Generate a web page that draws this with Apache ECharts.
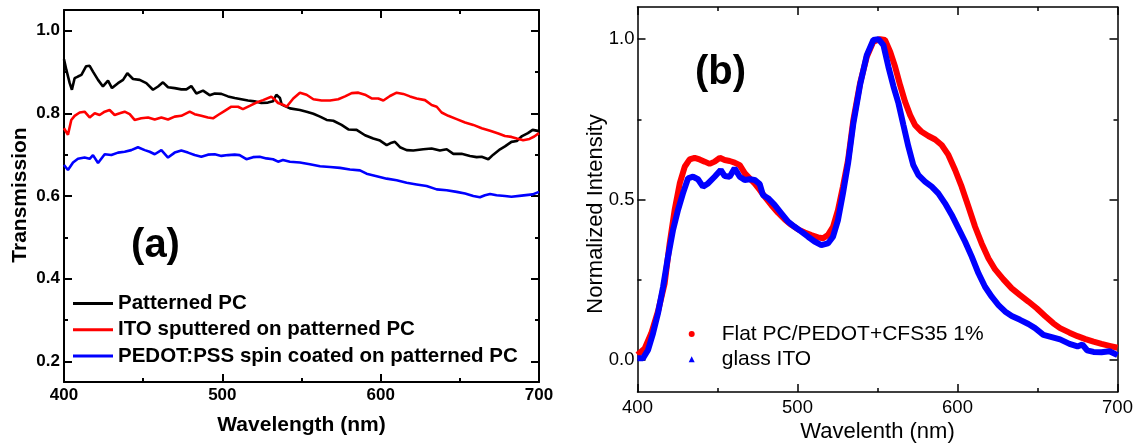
<!DOCTYPE html>
<html>
<head>
<meta charset="utf-8">
<script src="https://cdn.jsdelivr.net/npm/echarts@6/dist/echarts.min.js"></script>
<style>
  html, body { margin: 0; padding: 0; background: #fff; }
  #chart { width: 1143px; height: 444px; }
</style>
</head>
<body>
<div id="chart"></div>
<script>
// ---------- (a) transmission spectra ----------
const wlPatterned = [400,401.5,403.6,405,406.7,408.8,411,414,416.2,418.3,421.5,424.6,427.8,430.3,434.1,437.3,440,443.6,447.8,452,456.2,459.4,462.5,465.7,469.9,474.1,477.3,480.4,483.6,487.8,492,495.2,499.4,503.6,507.8,512,516.2,520.4,524.6,528.8,532,534.1,536.4,537.5,542.7,549,553.2,557.5,561.7,565.9,570.1,575.3,579.6,584.8,590.1,595.3,599.6,603.8,606.9,609,612.2,616.4,620.6,626.9,632.2,637.4,641.7,645.9,651.1,656.4,660.6,663.8,668,671.1,675.4,678.5,682.6,686,689.3,693,696,700];
const tPatterned = [0.931,0.905,0.873,0.857,0.885,0.889,0.893,0.914,0.915,0.901,0.881,0.865,0.879,0.861,0.873,0.881,0.897,0.883,0.881,0.873,0.857,0.865,0.875,0.863,0.861,0.858,0.858,0.866,0.848,0.855,0.844,0.848,0.847,0.841,0.837,0.834,0.831,0.829,0.825,0.826,0.829,0.845,0.837,0.821,0.812,0.808,0.804,0.799,0.792,0.784,0.782,0.772,0.761,0.760,0.747,0.739,0.734,0.723,0.729,0.731,0.718,0.711,0.710,0.713,0.715,0.710,0.713,0.702,0.702,0.697,0.694,0.695,0.689,0.700,0.713,0.720,0.731,0.733,0.745,0.752,0.760,0.757];

const wlITO = [400,402.5,404.6,406.7,409.9,413,416.2,419.4,422.5,425.7,428.8,432,435.2,438.3,441.5,444.6,448.8,453.1,457.3,461.5,465.7,469.9,474.1,479.4,482.5,486.7,490.9,494.1,497.3,501.5,505.7,509.9,513,517.3,521.5,525.7,530.9,533,535.2,538.3,540.6,544.8,549,553.2,557.5,562.7,568,573.2,577.5,581.7,585.9,590.1,594.3,598.5,601.7,605.9,610.1,614.3,618.5,622.7,628,632.2,635.4,638.5,642.7,648,653.3,658.5,663.8,669.1,674.3,678.5,682.6,686,690,694,697,700];
const tITO = [0.764,0.748,0.784,0.794,0.802,0.804,0.790,0.800,0.796,0.804,0.808,0.796,0.800,0.804,0.798,0.784,0.788,0.790,0.785,0.790,0.785,0.792,0.794,0.804,0.798,0.794,0.790,0.788,0.796,0.806,0.816,0.816,0.810,0.818,0.826,0.832,0.840,0.834,0.825,0.821,0.816,0.836,0.850,0.845,0.834,0.831,0.831,0.834,0.841,0.849,0.850,0.845,0.836,0.836,0.831,0.842,0.850,0.847,0.841,0.836,0.832,0.820,0.816,0.802,0.794,0.786,0.778,0.772,0.764,0.758,0.751,0.745,0.743,0.739,0.735,0.738,0.744,0.752];

const wlPEDOT = [400,402.5,405.7,408.8,413,416.2,418.3,421.5,425.7,429.9,434.1,438.3,442.5,446.7,451,454.1,457.3,461.5,465.7,469.9,474.1,478.3,482.5,486.7,490.9,495.2,499.4,503.6,507.8,510.9,515.2,519.4,523.6,527.8,532,535.2,538.3,542.7,549,555.3,561.7,568,574.3,580.6,586.9,591.1,597.5,603.8,610.1,616.4,622.7,629,635.4,641.7,648,653.3,658.5,662.7,665.9,669.1,673.2,678.5,682.6,689,696,700];
const tPEDOT = [0.675,0.663,0.681,0.690,0.693,0.690,0.699,0.680,0.701,0.699,0.705,0.707,0.711,0.718,0.711,0.707,0.701,0.711,0.693,0.705,0.710,0.705,0.699,0.695,0.700,0.701,0.697,0.699,0.700,0.699,0.689,0.694,0.695,0.691,0.689,0.683,0.687,0.683,0.681,0.677,0.672,0.670,0.668,0.664,0.662,0.654,0.648,0.642,0.638,0.632,0.628,0.624,0.616,0.614,0.610,0.606,0.600,0.597,0.602,0.605,0.602,0.600,0.598,0.601,0.604,0.610];

// ---------- (b) normalized emission ----------
const wlFlat = [400,404.5,408.6,412.8,417,420.1,423.2,426.4,429.5,432.6,435.7,438.8,442,445.1,448.2,451.4,454.5,457.6,460.7,463.9,467,470.1,473.2,476.4,479.5,483.6,487.8,492,496.1,500.3,504.5,508.6,512.8,516,519,522.2,525.3,528.4,531.6,534.9,539.1,543.3,547.4,551.6,554.7,557.9,561,564.1,567.2,570.4,573.5,577.6,581.8,586,590.1,594.3,598.5,602.6,606.8,611,615.1,619.3,623.5,628.7,633.9,639.1,644.3,649.5,654.7,659.9,664.1,670,675,680,685,690,695,700];
const iFlat = [0.016,0.036,0.083,0.151,0.239,0.363,0.467,0.550,0.602,0.625,0.630,0.625,0.618,0.611,0.618,0.630,0.623,0.620,0.615,0.607,0.582,0.566,0.550,0.530,0.509,0.483,0.459,0.438,0.421,0.407,0.397,0.389,0.382,0.379,0.389,0.415,0.467,0.540,0.623,0.748,0.862,0.945,0.992,1.000,0.997,0.961,0.914,0.857,0.805,0.763,0.732,0.711,0.698,0.687,0.670,0.639,0.592,0.540,0.478,0.415,0.363,0.317,0.282,0.251,0.223,0.202,0.182,0.161,0.137,0.114,0.099,0.085,0.074,0.065,0.057,0.050,0.044,0.038];

const wlGlass = [400,403.4,406.6,409.7,412.8,416,419.1,422.2,425.3,428.4,431.6,434.7,437.8,440.9,444.1,448.2,452,454.5,457.6,460.7,463.9,467,470.1,473.2,476.4,478.4,481.6,485.7,489.9,494.1,498.2,502.4,506.6,510.7,514.9,519,522.2,525.3,528.4,531.6,534.9,539.1,543.3,547.4,550.6,553.7,556.8,560,563.1,566.2,569.3,572.4,575.6,579.7,583.9,588,592.2,596.4,600.6,604.7,608.9,613.1,617.2,621.4,625.6,629.7,633.9,639.1,644.3,648.5,653.7,658.9,664.1,670,675,678,681,685,690,695,700];
const iGlass = [0.005,0.005,0.031,0.083,0.145,0.228,0.322,0.405,0.467,0.519,0.566,0.571,0.563,0.540,0.550,0.571,0.592,0.573,0.571,0.597,0.571,0.561,0.563,0.561,0.548,0.514,0.504,0.483,0.457,0.431,0.415,0.400,0.384,0.369,0.358,0.363,0.384,0.436,0.519,0.613,0.737,0.857,0.950,0.997,1.000,0.981,0.914,0.852,0.800,0.732,0.665,0.607,0.576,0.556,0.540,0.519,0.488,0.452,0.410,0.369,0.322,0.270,0.228,0.197,0.171,0.151,0.137,0.125,0.112,0.099,0.078,0.071,0.064,0.050,0.042,0.048,0.030,0.025,0.024,0.027,0.015];

// tick positions
const xMajorTicks = [400, 500, 600, 700];
const aMajorTicks = [0.2, 0.4, 0.6, 0.8, 1.0];
const aMinorTicks = [0.3, 0.5, 0.7, 0.9];
const bMajorTicks = [0.0, 0.5, 1.0];
const bMinorTicks = [0.25, 0.75];

const FONT = "'Liberation Sans', Arial, sans-serif";
const pair = (xs, ys) => xs.map((x, i) => [x, ys[i]]);

function xAxisFor(grid, pos, bold, lw, fontSize, margin) {
  return {
    type: 'value', gridIndex: grid, position: pos,
    min: 400, max: 700, interval: 100,
    axisLine: { show: true, onZero: false, lineStyle: { color: '#000', width: lw } },
    axisTick: { show: true, inside: true, length: 8, lineStyle: { color: '#000', width: lw } },
    minorTick: { show: true, splitNumber: 2, length: 4, lineStyle: { color: '#000', width: lw } },
    axisLabel: {
      show: pos === 'bottom', margin: margin, color: '#000',
      fontFamily: FONT, fontSize: fontSize, fontWeight: bold ? 'bold' : 'normal',
      customValues: xMajorTicks
    },
    splitLine: { show: false }
  };
}

function yAxisFor(grid, pos, min, max, ticks, len, withLabels, showLine, bold, lw, fontSize, margin) {
  return {
    type: 'value', gridIndex: grid, position: pos, min: min, max: max,
    axisLine: { show: showLine, onZero: false, lineStyle: { color: '#000', width: lw } },
    axisTick: { show: true, inside: true, length: len, customValues: ticks, lineStyle: { color: '#000', width: lw } },
    axisLabel: {
      show: withLabels, customValues: ticks, margin: margin, color: '#000',
      fontFamily: FONT, fontSize: fontSize, fontWeight: bold ? 'bold' : 'normal',
      formatter: v => Number(v).toFixed(1)
    },
    splitLine: { show: false }
  };
}

const chart = echarts.init(document.getElementById('chart'), null, { renderer: 'canvas' });

chart.setOption({
  animation: false,
  backgroundColor: '#fff',
  grid: [
    { left: 64, top: 10, width: 475, height: 372 },
    { left: 637.5, top: 7, width: 480, height: 385 }
  ],
  xAxis: [
    xAxisFor(0, 'bottom', true, 2, 17, 5),
    xAxisFor(0, 'top', true, 2, 17, 5),
    xAxisFor(1, 'bottom', false, 1.5, 18.5, 6),
    xAxisFor(1, 'top', false, 1.5, 18.5, 6)
  ],
  yAxis: [
    yAxisFor(0, 'left', 0.15, 1.05, aMajorTicks, 8, true, true, true, 2, 17, 4),
    yAxisFor(0, 'left', 0.15, 1.05, aMinorTicks, 4, false, false, true, 2, 17, 4),
    yAxisFor(0, 'right', 0.15, 1.05, aMajorTicks, 8, false, true, true, 2, 17, 4),
    yAxisFor(0, 'right', 0.15, 1.05, aMinorTicks, 4, false, false, true, 2, 17, 4),
    yAxisFor(1, 'left', -0.1, 1.1, bMajorTicks, 8, true, true, false, 1.5, 18.5, 3),
    yAxisFor(1, 'left', -0.1, 1.1, bMinorTicks, 4, false, false, false, 1.5, 18.5, 3),
    yAxisFor(1, 'right', -0.1, 1.1, bMajorTicks, 8, false, true, false, 1.5, 18.5, 3),
    yAxisFor(1, 'right', -0.1, 1.1, bMinorTicks, 4, false, false, false, 1.5, 18.5, 3)
  ],
  legend: [
    {
      orient: 'vertical', left: 68, top: 288, itemGap: 5.3, padding: 5,
      itemWidth: 40, itemHeight: 3, icon: 'rect', selectedMode: false,
      textStyle: { fontFamily: FONT, fontSize: 20.5, fontWeight: 'bold', color: '#000', lineHeight: 21 },
      data: ['Patterned PC', 'ITO sputtered on patterned PC', 'PEDOT:PSS spin coated on patterned PC']
    },
    {
      orient: 'vertical', left: 683.7, top: 318.5, itemGap: 4.3, padding: 5,
      itemWidth: 6, itemHeight: 6, selectedMode: false,
      textStyle: { fontFamily: FONT, fontSize: 21, color: '#000', lineHeight: 21, padding: [0, 0, 0, 22] },
      data: [
        { name: 'Flat PC/PEDOT+CFS35 1%', icon: 'circle' },
        { name: 'glass ITO', icon: 'triangle' }
      ]
    }
  ],
  series: [
    { name: 'Patterned PC', type: 'line', xAxisIndex: 0, yAxisIndex: 0, showSymbol: false,
      data: pair(wlPatterned, tPatterned), color: '#000', lineStyle: { width: 2.6, color: '#000' } },
    { name: 'ITO sputtered on patterned PC', type: 'line', xAxisIndex: 0, yAxisIndex: 0, showSymbol: false,
      data: pair(wlITO, tITO), color: '#ff0000', lineStyle: { width: 2.6, color: '#ff0000' } },
    { name: 'PEDOT:PSS spin coated on patterned PC', type: 'line', xAxisIndex: 0, yAxisIndex: 0, showSymbol: false,
      data: pair(wlPEDOT, tPEDOT), color: '#0000ff', lineStyle: { width: 2.6, color: '#0000ff' } },
    { name: 'Flat PC/PEDOT+CFS35 1%', type: 'line', xAxisIndex: 2, yAxisIndex: 4, showSymbol: false,
      data: pair(wlFlat, iFlat), color: '#ff0000', lineStyle: { width: 6, color: '#ff0000' } },
    { name: 'glass ITO', type: 'line', xAxisIndex: 2, yAxisIndex: 4, showSymbol: false,
      data: pair(wlGlass, iGlass), color: '#0000ff', lineStyle: { width: 6, color: '#0000ff' } }
  ],
  graphic: [
    { type: 'text', x: 20, y: 195, rotation: Math.PI / 2,
      style: { text: 'Transmission', font: 'bold 21px ' + FONT, fill: '#000', textAlign: 'center', textVerticalAlign: 'middle' } },
    { type: 'text', x: 301.5, y: 425,
      style: { text: 'Wavelength (nm)', font: 'bold 21px ' + FONT, fill: '#000', textAlign: 'center', textVerticalAlign: 'middle' } },
    { type: 'text', x: 155.5, y: 246,
      style: { text: '(a)', font: 'bold 40px ' + FONT, fill: '#000', textAlign: 'center', textVerticalAlign: 'middle' } },
    { type: 'text', x: 596, y: 214, rotation: Math.PI / 2,
      style: { text: 'Normalized Intensity', font: '22px ' + FONT, fill: '#000', textAlign: 'center', textVerticalAlign: 'middle' } },
    { type: 'text', x: 877.5, y: 432,
      style: { text: 'Wavelenth (nm)', font: '22px ' + FONT, fill: '#000', textAlign: 'center', textVerticalAlign: 'middle' } },
    { type: 'text', x: 720.5, y: 73,
      style: { text: '(b)', font: 'bold 40px ' + FONT, fill: '#000', textAlign: 'center', textVerticalAlign: 'middle' } }
  ]
});
</script>
</body>
</html>
